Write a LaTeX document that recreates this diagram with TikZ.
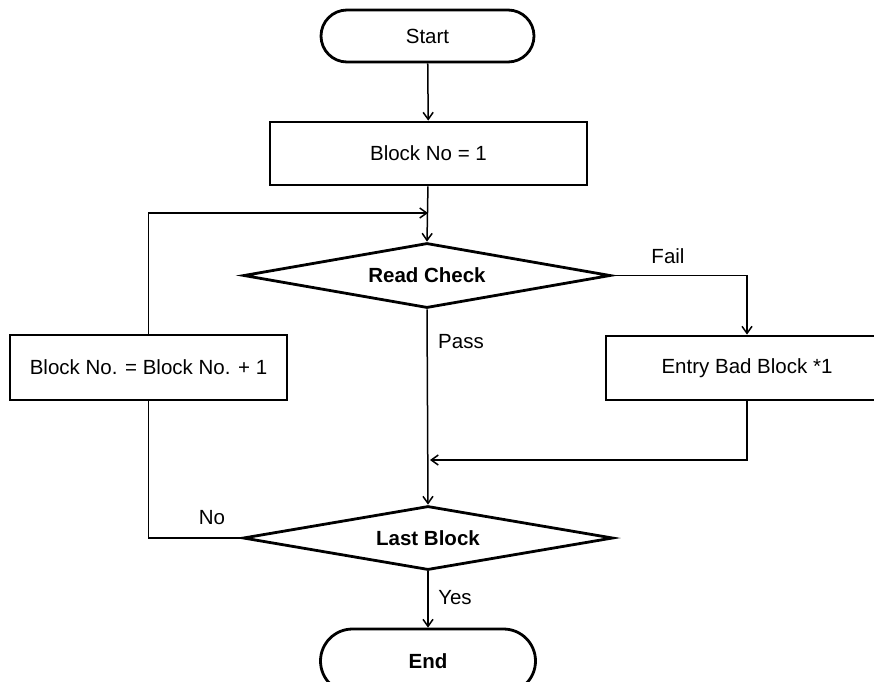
\documentclass[tikz,border=0pt]{standalone}
\usepackage{fontspec}
\setmainfont{Liberation Sans}
\usetikzlibrary{shapes.geometric,arrows.meta}
\begin{document}
\begin{tikzpicture}[x=1pt,y=-1pt,
  every node/.style={font=\fontsize{20.5}{24}\selectfont},
  term/.style={draw,line width=2.8pt,rectangle,rounded corners=26pt,minimum height=52pt,inner sep=0pt},
  proc/.style={draw,line width=2.8pt,rectangle,inner sep=0pt},
  dec/.style={draw,line width=2.8pt,diamond,aspect=5.6,inner sep=0pt},
  conn/.style={line width=1.5pt},
  arr/.style={conn,-{Straight Barb[length=7pt,width=10pt,line width=1.5pt]}},
  lbl/.style={inner sep=0pt}]
\useasboundingbox (0,0) rectangle (874,681);
\clip (0,0) rectangle (874,681);
\node[term,minimum width=213pt] (start) at (427.5,36) {Start};
\node[proc,minimum width=317pt,minimum height=63pt] (b1) at (428.5,153.5) {Block No = 1};
\node[dec,minimum width=367pt,minimum height=65pt] (rc) at (427,275.5) {\textbf{Read Check}};
\node[proc,minimum width=277pt,minimum height=65pt] (inc) at (148.5,367.5) {Block No. = Block No. + 1};
\node[proc,minimum width=282pt,minimum height=64pt] (bad) at (747,368) {Entry Bad Block *1};
\node[dec,minimum width=370pt,minimum height=64pt] (lb) at (428,538) {\textbf{Last Block}};
\node[term,minimum width=215pt,minimum height=64pt,rounded corners=32pt,font=\fontsize{20.5}{24}\selectfont\bfseries] (end) at (428,661) {End};
\coordinate (j1) at (428,213);
\coordinate (j2) at (430,460);
\node[lbl] (fail) at (668,256) {Fail};
\node[lbl] (pass) at (461,342) {Pass};
\node[lbl] (no) at (212,518) {No};
\node[lbl] (yes) at (455,598) {Yes};
\draw[arr] (start) -- (b1);
\draw[arr] (b1) -- (rc.north);
\draw[arr] (inc.north) |- (j1);
\draw[arr] (rc.east) -| (bad.north);
\draw[arr] (bad.south) |- (j2);
\draw[arr] (rc.south) -- (lb.north);
\draw[conn] (inc.south) |- (lb.west);
\draw[arr] (lb.south) -- (end.north);
\end{tikzpicture}
\end{document}
